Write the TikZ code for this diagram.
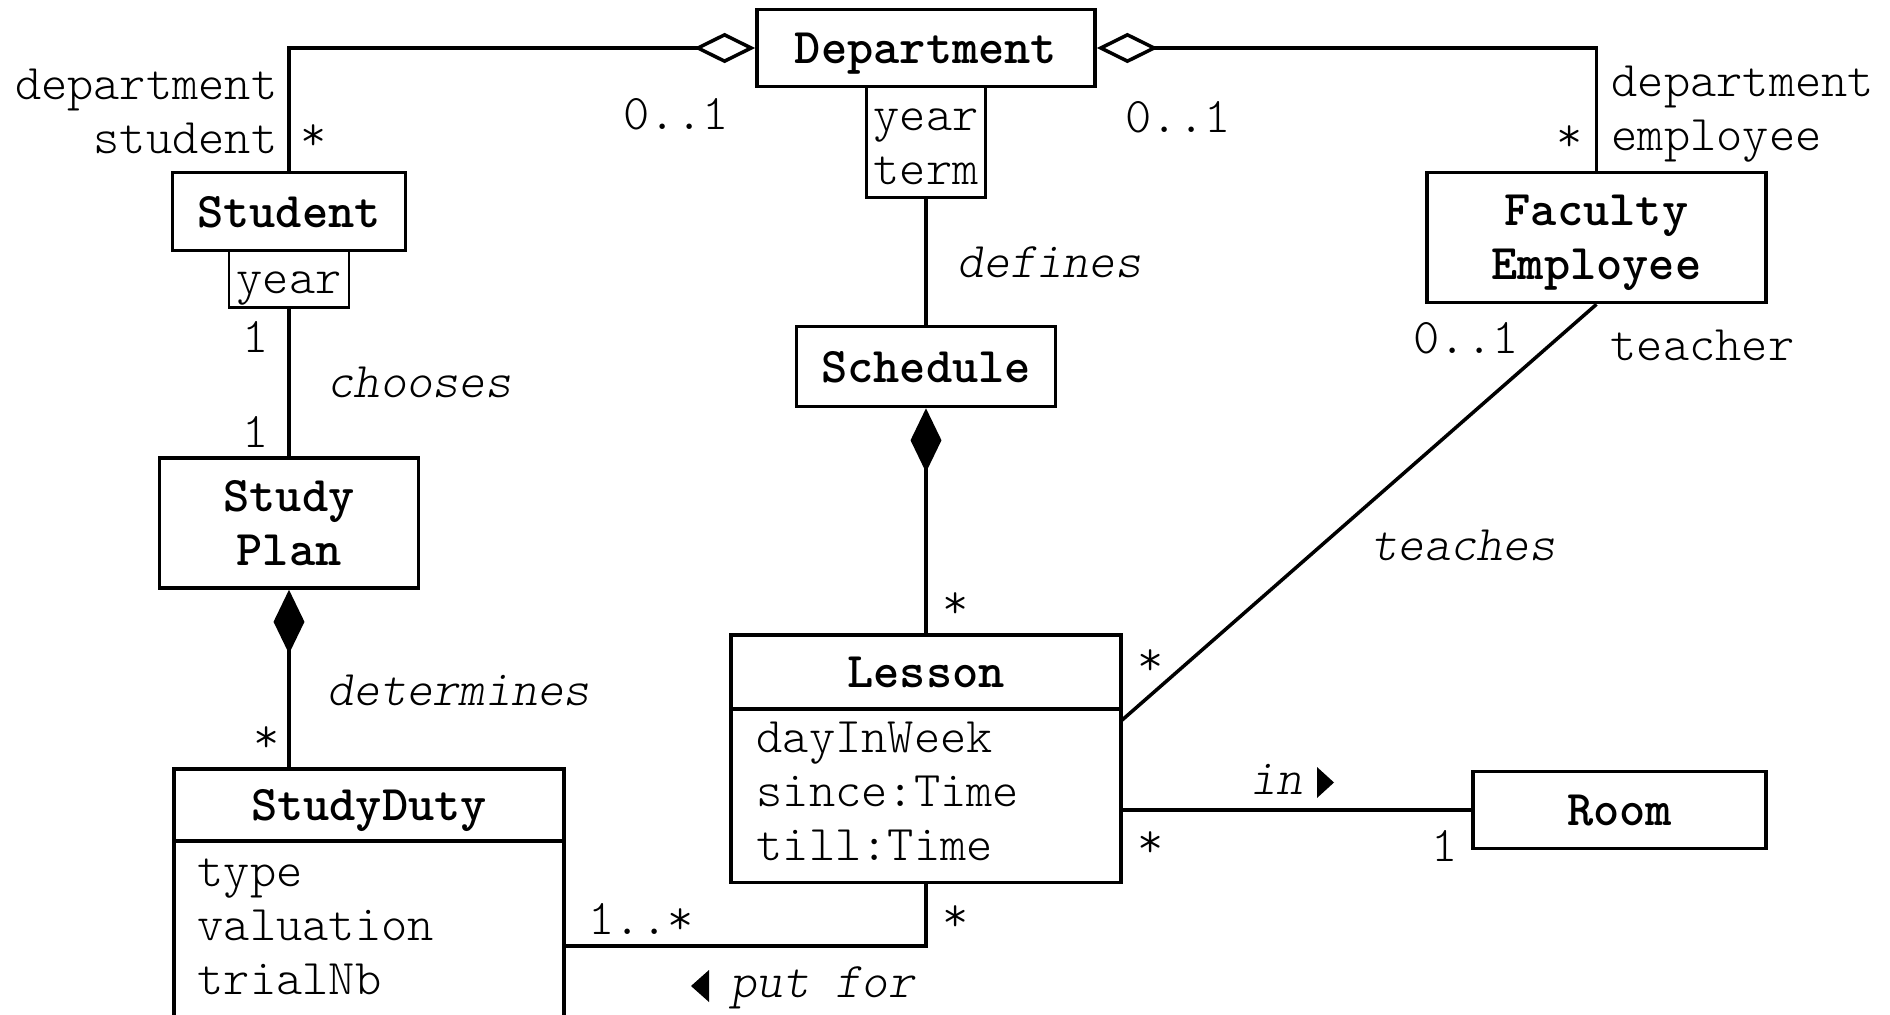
\documentclass[tikz,border=0pt]{standalone}
\usepackage{fontspec}
\usetikzlibrary{arrows.meta}

\newfontfamily\umllight{lmmonolt10}[Extension=.otf, UprightFont=*-regular, ItalicFont=*-oblique, BoldFont=*-bold]
\newcommand{\umlsize}{\fontsize{14.2}{15.3}\selectfont}

\tikzset{
  cls/.style={draw, line width=1pt, font=\ttfamily\umlsize\bfseries, align=center, inner sep=0pt, text depth=0pt},
  keybox/.style={draw, line width=0.8pt, font=\umllight\umlsize, align=left, inner sep=0pt, text depth=0pt},
  role/.style={font=\umllight\umlsize, inner sep=0pt},
  assoc/.style={font=\umllight\umlsize\itshape, inner sep=0pt},
  link/.style={line width=1pt},
  aggr/.style={link, {Diamond[open, length=17.4pt, width=8.6pt]}-},
  comp/.style={link, {Diamond[length=18.2pt, width=8.8pt]}-}
}

\begin{document}
\begin{tikzpicture}[x=0.01cm, y=-0.01cm]
    \useasboundingbox (0,0) rectangle (1890,1015);

    % Drawing the classes
    \node[cls, minimum width=3.38cm, minimum height=0.77cm] (department) at (926,48) {Department};
    \node[keybox, minimum width=1.19cm, minimum height=1.11cm, text height=24.2pt] (deptKey) at (926,142) {year\\term};
    \node[cls, minimum width=2.33cm, minimum height=0.78cm] (student) at (289,211.5) {Student};
    \node[keybox, minimum width=1.2cm, minimum height=0.57cm, text height=8.1pt] (studentKey) at (289,279) {year};
    \node[cls, minimum width=2.59cm, minimum height=1.3cm] (studyPlan) at (289,523) {Study\\Plan};
    \node[cls, minimum width=2.59cm, minimum height=0.8cm] (schedule) at (926,366.5) {Schedule};
    \node[cls, minimum width=3.39cm, minimum height=1.3cm] (faculty) at (1596.5,237.5) {Faculty\\Employee};
    \node[cls, minimum width=2.93cm, minimum height=0.77cm] (room) at (1619.5,810) {Room};

    % Drawing the classes with attributes
    \node[cls, minimum width=3.9cm, minimum height=0.736cm] (lessonHead) at (926,672) {Lesson};
    \node[cls, minimum width=3.9cm, minimum height=1.736cm] (lessonBody) at (926,795.6) {};
    \node[role, align=left, anchor=base west] (lessonAttr) at (756,860) {dayInWeek\\since:Time\\till:Time};
    \node[cls, minimum width=3.9cm, minimum height=0.724cm] (dutyHead) at (369,805) {StudyDuty};
    \node[cls, minimum width=3.9cm, minimum height=2.1cm] (dutyBody) at (369,946) {};
    \node[role, align=left, anchor=base west] (dutyAttr) at (197,994) {type\\valuation\\trialNb};

    % Drawing the associations
    \coordinate (teachEnd) at (1121,721);
    \coordinate (putEnd) at (564,946);
    \draw[aggr] (department.west) -| (student.north);
    \draw[aggr] (department.east) -| (faculty.north);
    \draw[link] (deptKey.south) -- (schedule.north);
    \draw[link] (studentKey.south) -- (studyPlan.north);
    \draw[comp] (schedule.south) -- (lessonHead.north);
    \draw[comp] (studyPlan.south) -- (studyPlan.south |- dutyHead.north);
    \draw[link] (faculty.south) -- (teachEnd);
    \draw[link] (lessonBody.east |- room.west) -- (room.west);
    \draw[link] (lessonBody.south) |- (putEnd);

    % Labels
    \node[role, align=right, anchor=base east] (stuRole) at (278,153) {department\\student};
    \node[role, anchor=base] (stuMult) at (314,150.7) {*};
    \node[role, anchor=base] (deptStuMult) at (676,129) {0..1};
    \node[role, anchor=base] (deptFacMult) at (1178,132) {0..1};
    \node[role, anchor=base] (facMult) at (1570,151) {*};
    \node[role, align=left, anchor=base west] (facRole) at (1611,150) {department\\employee};
    \node[assoc, anchor=base west] (definesLbl) at (957,277) {defines};
    \node[role, anchor=base] (choosesUp) at (256,352) {1};
    \node[assoc, anchor=base west] (choosesLbl) at (327,397) {chooses};
    \node[role, anchor=base] (choosesDown) at (256,447) {1};
    \node[assoc, anchor=base west] (determinesLbl) at (327,705) {determines};
    \node[role, anchor=base] (dutyMult) at (267,752) {*};
    \node[role, anchor=base] (lessonMult) at (956,618) {*};
    \node[role, anchor=base] (teacherMult) at (1466,353) {0..1};
    \node[role, anchor=base west] (teacherRole) at (1610,360) {teacher};
    \node[assoc, anchor=base west] (teachesLbl) at (1371,560) {teaches};
    \node[role, anchor=base] (teachMult) at (1151,675) {*};
    \node[assoc, anchor=base west] (inLbl) at (1250,794) {in};
    \fill (1317,767) -- (1334,782.5) -- (1317,798) -- cycle;
    \node[role, anchor=base] (roomLessonMult) at (1151,857) {*};
    \node[role, anchor=base] (roomMult) at (1445,861) {1};
    \node[role, anchor=base west] (putDutyMult) at (588,934) {1..*};
    \node[role, anchor=base] (putLessonMult) at (956,931) {*};
    \node[assoc, anchor=base west] (putLbl) at (730,997) {put for};
    \fill (709,970) -- (691,986) -- (709,1002) -- cycle;
\end{tikzpicture}
\end{document}
